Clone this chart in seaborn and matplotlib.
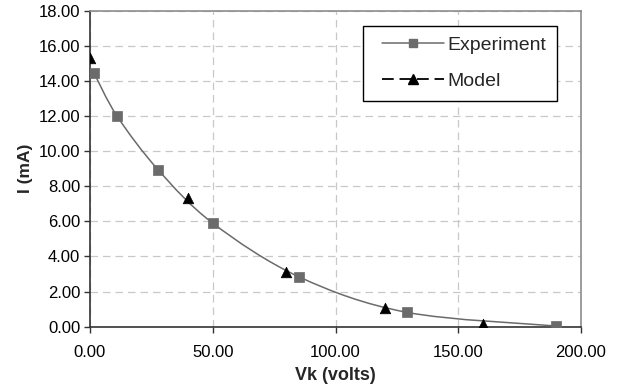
import numpy as np
import pandas as pd
import seaborn as sns
import matplotlib
matplotlib.use("Agg")
import matplotlib.pyplot as plt
from matplotlib.path import Path
from matplotlib.patches import PathPatch
from matplotlib.lines import Line2D
from matplotlib.legend_handler import HandlerLine2D

# Measured plate current vs. voltage
exp_vk = [1.6, 11.0, 27.8, 50.0, 85.3, 129.0, 189.8]
exp_i = [14.46, 12.0, 8.93, 5.90, 2.83, 0.82, 0.04]

# Model prediction
model_vk = [0.0, 40.0, 80.0, 120.0, 160.0]
model_i = [15.3, 7.31, 3.13, 1.05, 0.15]

x_ticks = [0, 50, 100, 150, 200]
y_ticks = [0, 2, 4, 6, 8, 10, 12, 14, 16, 18]

sns.set_style("white")
plt.rcParams["font.family"] = ["Liberation Sans", "DejaVu Sans"]

fig = plt.figure(figsize=(6.23, 3.87), dpi=100)
ax = fig.add_axes([90 / 623, 60.3 / 387, 491 / 623, 316 / 387])

exp_df = pd.DataFrame({"Vk": exp_vk, "I": exp_i})
model_df = pd.DataFrame({"Vk": model_vk, "I": model_i})

# Smoothed experiment curve (cardinal Bezier through the measured points)
pts = np.column_stack([exp_vk, exp_i])
ext = np.vstack([pts[0], pts, pts[-1]])
verts = [tuple(pts[0])]
codes = [Path.MOVETO]
for k in range(len(pts) - 1):
    p0, p1, p2, p3 = ext[k], ext[k + 1], ext[k + 2], ext[k + 3]
    c1 = p1 + (p2 - p0) / 6.0
    c2 = p2 - (p3 - p1) / 6.0
    verts += [tuple(c1), tuple(c2), tuple(p2)]
    codes += [Path.CURVE4] * 3
ax.add_patch(PathPatch(Path(verts, codes), facecolor="none",
                       edgecolor="#6b6b6b", lw=1.1, zorder=3))

sns.scatterplot(data=exp_df, x="Vk", y="I", marker="s", s=42,
                color="#6b6b6b", edgecolor="#6b6b6b", linewidth=0.5,
                ax=ax, zorder=4, legend=False)
sns.scatterplot(data=model_df, x="Vk", y="I", marker="^", s=58,
                color="black", edgecolor="black", linewidth=0.5,
                ax=ax, zorder=5, legend=False)

ax.set_xlim(0, 200)
ax.set_ylim(0, 18)
ax.set_xticks(x_ticks)
ax.set_yticks(y_ticks)
ax.set_xticklabels([f"{v:.2f}" for v in x_ticks])
ax.set_yticklabels([f"{v:.2f}" for v in y_ticks])
ax.tick_params(axis="both", direction="out", length=4, width=1,
               color="#333333", labelsize=12, labelcolor="black")
ax.tick_params(axis="x", pad=9)
ax.tick_params(axis="y", pad=3)
ax.tick_params(axis="both", which="both", bottom=True, left=True)

ax.grid(True, color="#c8c8c8", linestyle=(0, (6, 4)), linewidth=0.9)
ax.set_axisbelow(True)

for side in ["left", "bottom"]:
    ax.spines[side].set_color("#333333")
    ax.spines[side].set_linewidth(1.2)
for side in ["top", "right"]:
    ax.spines[side].set_visible(True)
    ax.spines[side].set_color("#8c8c8c")
    ax.spines[side].set_linewidth(1.2)

ax.set_xlabel("Vk (volts)", fontsize=13, fontweight="bold", labelpad=5)
ax.set_ylabel("I (mA)", fontsize=12.5, fontweight="bold", labelpad=4)

handles = [
    Line2D([], [], color="#6b6b6b", lw=1.1, marker="s", markersize=6.3,
           markerfacecolor="#6b6b6b", markeredgecolor="#6b6b6b"),
    Line2D([], [], color="black", lw=1.3, linestyle=(0, (6.5, 3.2)), marker="^",
           markersize=7.5, markerfacecolor="black", markeredgecolor="black"),
]
shifted = HandlerLine2D(xpad=0.45)
leg = ax.legend(handles, ["Experiment", "Model"], loc="upper right",
                bbox_to_anchor=(556.7 / 623, 1 - 25.7 / 387),
                bbox_transform=fig.transFigure,
                handler_map={h: shifted for h in handles},
                fontsize=14, frameon=True, fancybox=False, framealpha=1,
                edgecolor="black", handlelength=3.65, handletextpad=0.15,
                borderpad=0.55, labelspacing=0.95, borderaxespad=0)
leg.get_frame().set_linewidth(1.0)

fig.savefig("out.png", dpi=100)
